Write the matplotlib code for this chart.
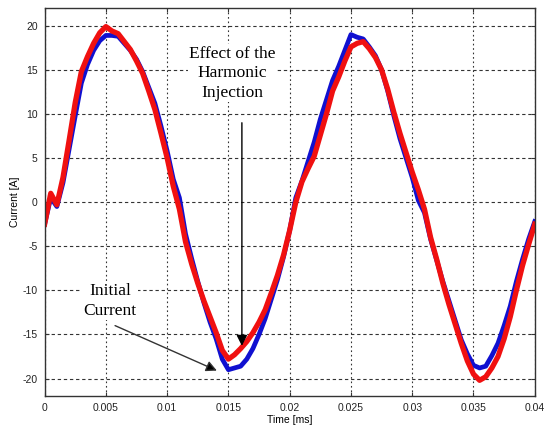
import numpy as np
import matplotlib
matplotlib.use("Agg")
import matplotlib.pyplot as plt

plt.rcParams['axes.unicode_minus'] = False

# time axis [s] (labelled ms in the original), one point every 0.5 ms
t = np.arange(81) * 0.0005

# blue trace: initial current
i_init = [-2.5, 0.5, -0.5, 2.2, 6.0, 9.8, 13.5, 15.6, 17.2, 18.3,
          18.9, 18.9, 18.8, 18.0, 17.2, 16.2, 14.8, 13.0, 11.2, 8.6,
          5.8, 2.6, 0.5, -3.6, -6.4, -9.0, -11.4, -13.6, -15.5, -17.8,
          -19.0, -18.8, -18.6, -17.8, -16.6, -15.0, -13.2, -11.0, -8.8, -6.2,
          -3.2, 0.5, 2.4, 4.6, 6.8, 9.4, 11.6, 13.8, 15.4, 17.2,
          19.0, 18.7, 18.5, 17.6, 16.6, 15.0, 12.6, 9.8, 7.2, 5.0,
          2.8, 0.2, -1.2, -4.2, -6.6, -9.0, -11.2, -13.4, -15.6, -17.2,
          -18.5, -18.8, -18.6, -17.4, -16.0, -14.0, -11.8, -9.0, -6.5, -4.2,
          -2.2]

# red trace: with harmonic injection
i_harm = [-2.5, 1.0, -0.3, 2.8, 7.0, 11.3, 14.8, 16.5, 18.0, 19.2,
          19.9, 19.4, 19.1, 18.2, 17.3, 16.0, 14.6, 12.6, 10.5, 7.8,
          5.0, 1.8, -0.8, -4.5, -7.0, -9.2, -11.2, -13.0, -14.8, -16.8,
          -17.8, -17.3, -16.6, -15.8, -14.8, -13.6, -12.2, -10.3, -8.3, -6.0,
          -3.2, 0.0, 2.3, 3.8, 5.2, 7.6, 10.0, 12.6, 14.2, 16.0,
          17.6, 18.0, 18.2, 17.4, 16.4, 15.0, 12.8, 10.2, 7.8, 5.6,
          3.4, 1.4, -0.8, -4.0, -6.5, -9.2, -11.6, -13.8, -16.0, -18.0,
          -19.5, -20.2, -19.8, -18.8, -17.5, -15.5, -13.0, -10.0, -7.2, -4.8,
          -2.5]

xticks = [0, 0.005, 0.01, 0.015, 0.02, 0.025, 0.03, 0.035, 0.04]
xticklabels = ['0', '0.005', '0.01', '0.015', '0.02', '0.025', '0.03', '0.035', '0.04']
yticks = [-20, -15, -10, -5, 0, 5, 10, 15, 20]

fig = plt.figure(figsize=(5.44, 4.26), dpi=100)
ax = fig.add_axes([0.082, 0.070, 0.901, 0.911])

ax.plot(t, i_init, color='#1010d0', lw=3.4, solid_joinstyle='round')
ax.plot(t, i_harm, color='#f01010', lw=3.8, solid_joinstyle='round')

ax.set_xlim(0, 0.04)
ax.set_ylim(-22, 22)
ax.set_xticks(xticks)
ax.set_xticklabels(xticklabels)
ax.set_yticks(yticks)
ax.set_yticklabels([str(v) for v in yticks])
ax.tick_params(direction='in', top=True, right=True, labelsize=7.5,
               length=3, color='#333333', pad=5)
for lab in ax.get_xticklabels() + ax.get_yticklabels():
    lab.set_family('Liberation Sans')
    lab.set_color('#222222')
for sp in ax.spines.values():
    sp.set_color('#333333')
    sp.set_linewidth(1.0)

ax.set_axisbelow(True)
ax.yaxis.grid(True, color='#333333', linestyle=(0, (3, 2.5)), lw=0.8)
ax.xaxis.grid(True, color='#333333', linestyle=(0, (1.5, 2.5)), lw=0.8)

ax.set_xlabel('Time [ms]', fontsize=7.5, family='Liberation Sans', labelpad=1)
ax.set_ylabel('Current [A]', fontsize=7.5, family='Liberation Sans', labelpad=2)

box = dict(facecolor='white', edgecolor='none', pad=1)
ax.text(0.01533, 14.6, 'Effect of the\nHarmonic\nInjection', ha='center', va='center',
        family='Liberation Serif', fontsize=12.5, linespacing=1.3, bbox=box)
ax.annotate('', xy=(0.0161, -16.3), xytext=(0.0161, 9.0),
            arrowprops=dict(arrowstyle='-|>', color='black', lw=1.0,
                            mutation_scale=16, shrinkA=0, shrinkB=0))

ax.text(0.00535, -11.2, 'Initial\nCurrent', ha='center', va='center',
        family='Liberation Serif', fontsize=12.5, linespacing=1.3, bbox=box)
ax.annotate('', xy=(0.01406, -19.1), xytext=(0.00575, -14.0),
            arrowprops=dict(arrowstyle='-|>', color='#333333', fc='black', lw=1.0,
                            mutation_scale=16, shrinkA=0, shrinkB=0))

fig.savefig('out.png', dpi=100)
